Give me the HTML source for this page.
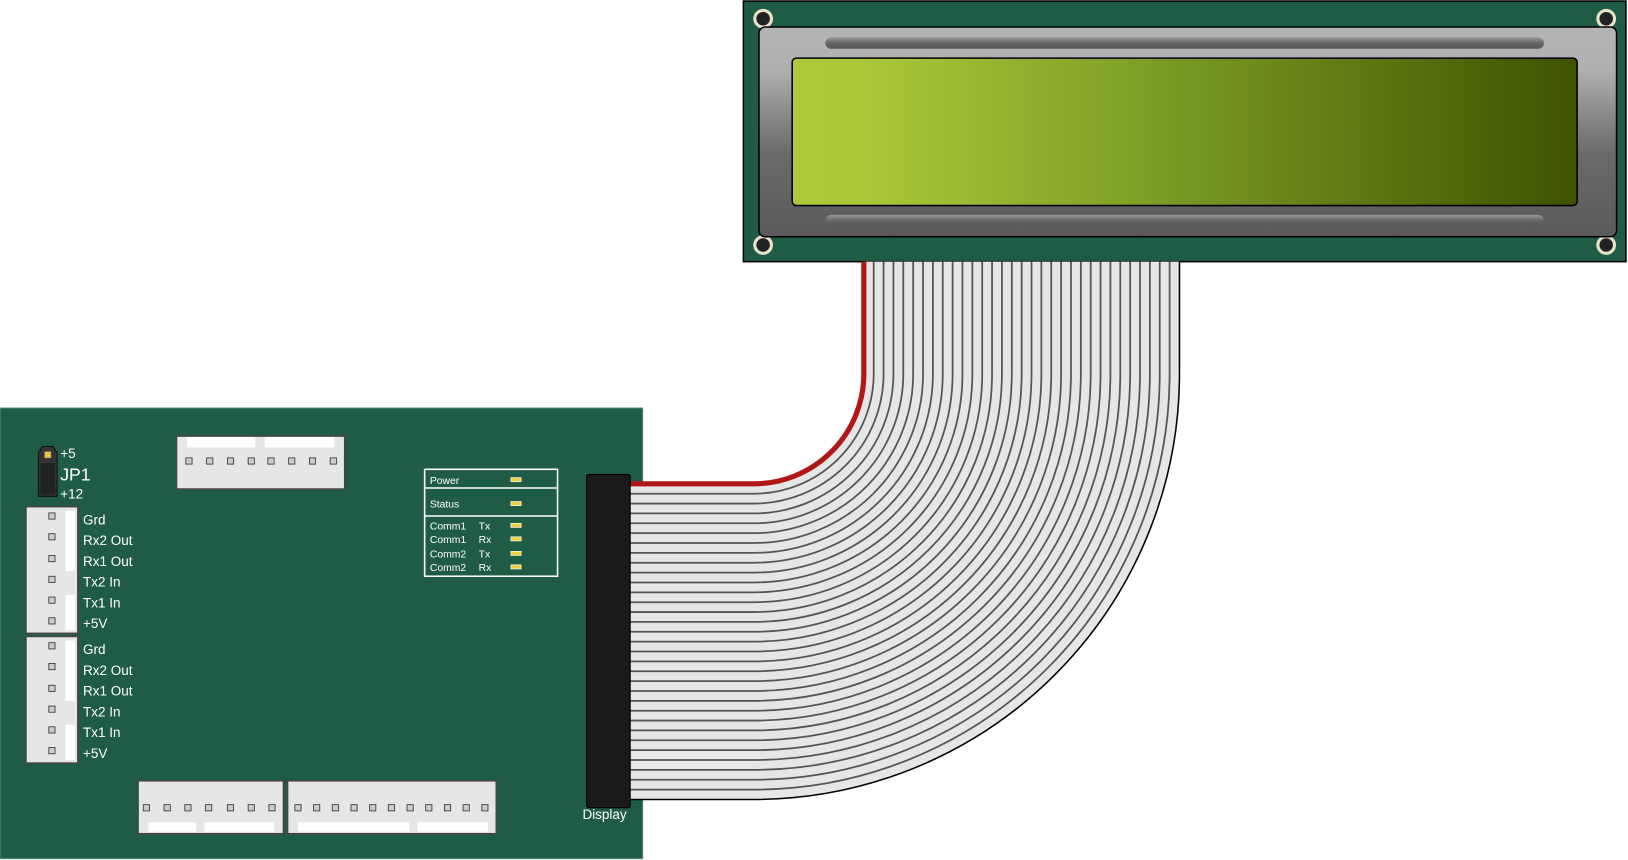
<!DOCTYPE html>
<html><head><meta charset="utf-8"><style>html,body{margin:0;padding:0;background:#fff}svg{display:block}</style></head>
<body>
<svg width="1628" height="860" viewBox="0 0 1568 828.3" preserveAspectRatio="none" xmlns="http://www.w3.org/2000/svg" font-family="Liberation Sans, sans-serif">
<defs>
<linearGradient id="bez" x1="0" y1="0" x2="0" y2="1"><stop offset="0" stop-color="#b4b4b4"/><stop offset="0.2" stop-color="#b0b0b0"/><stop offset="0.6" stop-color="#6a6a6a"/><stop offset="1" stop-color="#5a5a5a"/></linearGradient>
<linearGradient id="scr" x1="0" y1="0" x2="1" y2="0"><stop offset="0" stop-color="#aeca3a"/><stop offset="0.1" stop-color="#aac738"/><stop offset="0.45" stop-color="#7e9e26"/><stop offset="1" stop-color="#3e5200"/></linearGradient>
<linearGradient id="slot" x1="0" y1="0" x2="0" y2="1"><stop offset="0" stop-color="#999"/><stop offset="0.5" stop-color="#666"/><stop offset="1" stop-color="#555"/></linearGradient>
</defs>
<!-- LCD -->
<rect x="716" y="1" width="850" height="251" fill="#1f5c45" stroke="#000" stroke-width="1.5"/>
<g fill="#222" stroke="#e8e2c8" stroke-width="3">
<circle cx="735" cy="18" r="8"/><circle cx="1547" cy="18" r="8"/><circle cx="735" cy="236" r="8"/><circle cx="1547" cy="236" r="8"/></g>
<rect x="731" y="26" width="826" height="202" rx="6" fill="url(#bez)" stroke="#000" stroke-width="1.5"/>
<rect x="795" y="36" width="692" height="11" rx="5.5" fill="url(#slot)"/>
<rect x="795" y="207" width="692" height="11" rx="5.5" fill="url(#slot)"/>
<rect x="763" y="56" width="756" height="142" rx="4" fill="url(#scr)" stroke="#000" stroke-width="1.5"/>
<!-- PCB -->
<rect x="0" y="393" width="619" height="434" fill="#1f5c45" stroke="#5a8a78" stroke-width="1"/>
<!-- ribbon -->
<path d="M607 618 H726 A258 258 0 0 0 984 360 V252" fill="none" stroke="#e6e6e6" stroke-width="304"/>
<g fill="none" stroke="#555" stroke-width="1.7">
<path d="M607 475.5 H726 A115.5 115.5 0 0 0 841.5 360 V252"/>
<path d="M607 485 H726 A125 125 0 0 0 851 360 V252"/>
<path d="M607 494.5 H726 A134.5 134.5 0 0 0 860.5 360 V252"/>
<path d="M607 504 H726 A144 144 0 0 0 870 360 V252"/>
<path d="M607 513.5 H726 A153.5 153.5 0 0 0 879.5 360 V252"/>
<path d="M607 523 H726 A163 163 0 0 0 889 360 V252"/>
<path d="M607 532.5 H726 A172.5 172.5 0 0 0 898.5 360 V252"/>
<path d="M607 542 H726 A182 182 0 0 0 908 360 V252"/>
<path d="M607 551.5 H726 A191.5 191.5 0 0 0 917.5 360 V252"/>
<path d="M607 561 H726 A201 201 0 0 0 927 360 V252"/>
<path d="M607 570.5 H726 A210.5 210.5 0 0 0 936.5 360 V252"/>
<path d="M607 580 H726 A220 220 0 0 0 946 360 V252"/>
<path d="M607 589.5 H726 A229.5 229.5 0 0 0 955.5 360 V252"/>
<path d="M607 599 H726 A239 239 0 0 0 965 360 V252"/>
<path d="M607 608.5 H726 A248.5 248.5 0 0 0 974.5 360 V252"/>
<path d="M607 618 H726 A258 258 0 0 0 984 360 V252"/>
<path d="M607 627.5 H726 A267.5 267.5 0 0 0 993.5 360 V252"/>
<path d="M607 637 H726 A277 277 0 0 0 1003 360 V252"/>
<path d="M607 646.5 H726 A286.5 286.5 0 0 0 1012.5 360 V252"/>
<path d="M607 656 H726 A296 296 0 0 0 1022 360 V252"/>
<path d="M607 665.5 H726 A305.5 305.5 0 0 0 1031.5 360 V252"/>
<path d="M607 675 H726 A315 315 0 0 0 1041 360 V252"/>
<path d="M607 684.5 H726 A324.5 324.5 0 0 0 1050.5 360 V252"/>
<path d="M607 694 H726 A334 334 0 0 0 1060 360 V252"/>
<path d="M607 703.5 H726 A343.5 343.5 0 0 0 1069.5 360 V252"/>
<path d="M607 713 H726 A353 353 0 0 0 1079 360 V252"/>
<path d="M607 722.5 H726 A362.5 362.5 0 0 0 1088.5 360 V252"/>
<path d="M607 732 H726 A372 372 0 0 0 1098 360 V252"/>
<path d="M607 741.5 H726 A381.5 381.5 0 0 0 1107.5 360 V252"/>
<path d="M607 751 H726 A391 391 0 0 0 1117 360 V252"/>
<path d="M607 760.5 H726 A400.5 400.5 0 0 0 1126.5 360 V252"/>
</g>
<path d="M607 770 H726 A410 410 0 0 0 1136 360 V252" fill="none" stroke="#000" stroke-width="1.5"/>
<path d="M607 466 H726 A106 106 0 0 0 832 360 V252" fill="none" stroke="#b01818" stroke-width="5"/>
<!-- display connector -->
<rect x="565" y="457" width="42" height="321" rx="2" fill="#1a1a1a" stroke="#000"/>
<text x="561" y="789" fill="#fff" font-size="13">Display</text>
<!-- top connector -->
<rect x="170" y="420" width="162" height="51" fill="#e6e6e6" stroke="#444" stroke-width="1.5"/>
<rect x="180" y="421" width="66" height="10" fill="#fff"/><rect x="255" y="421" width="67" height="10" fill="#fff"/>
<g fill="#ccc" stroke="#333" stroke-width="0.8">
<rect x="179" y="441" width="6" height="6"/><rect x="199" y="441" width="6" height="6"/><rect x="219" y="441" width="6" height="6"/><rect x="239" y="441" width="6" height="6"/><rect x="258" y="441" width="6" height="6"/><rect x="278" y="441" width="6" height="6"/><rect x="298" y="441" width="6" height="6"/><rect x="318" y="441" width="6" height="6"/></g>
<!-- JP1 -->
<path d="M41 430 H51 L55 436 V478 H37 V436 Z" fill="#333" stroke="#111"/>
<rect x="39" y="446" width="14" height="30" fill="#222"/>
<rect x="43" y="435" width="6" height="6" fill="#e8c830" stroke="#999" stroke-width="0.5"/>
<g fill="#fff"><text x="58" y="441" font-size="13">+5</text><text x="58" y="463" font-size="17">JP1</text><text x="58" y="480" font-size="13">+12</text></g>
<!-- left connectors -->
<g>
<rect x="25" y="488" width="50" height="122" fill="#e6e6e6" stroke="#444" stroke-width="1.5"/>
<rect x="63" y="492" width="9" height="58" fill="#fff"/><rect x="63" y="573" width="9" height="34" fill="#fff"/>
<rect x="25" y="613" width="50" height="122" fill="#e6e6e6" stroke="#444" stroke-width="1.5"/>
<rect x="63" y="617" width="9" height="58" fill="#fff"/><rect x="63" y="698" width="9" height="34" fill="#fff"/>
</g>
<g fill="#ccc" stroke="#333" stroke-width="0.8">
<rect x="47" y="494" width="6" height="6"/><rect x="47" y="514" width="6" height="6"/><rect x="47" y="535" width="6" height="6"/><rect x="47" y="555" width="6" height="6"/><rect x="47" y="575" width="6" height="6"/><rect x="47" y="595" width="6" height="6"/>
<rect x="47" y="619" width="6" height="6"/><rect x="47" y="639" width="6" height="6"/><rect x="47" y="660" width="6" height="6"/><rect x="47" y="680" width="6" height="6"/><rect x="47" y="700" width="6" height="6"/><rect x="47" y="720" width="6" height="6"/>
</g>
<g fill="#fff" font-size="13">
<text x="80" y="505">Grd</text><text x="80" y="525">Rx2 Out</text><text x="80" y="545">Rx1 Out</text><text x="80" y="565">Tx2 In</text><text x="80" y="585">Tx1 In</text><text x="80" y="605">+5V</text>
<text x="80" y="630">Grd</text><text x="80" y="650">Rx2 Out</text><text x="80" y="670">Rx1 Out</text><text x="80" y="690">Tx2 In</text><text x="80" y="710">Tx1 In</text><text x="80" y="730">+5V</text>
</g>
<!-- LED box -->
<rect x="409" y="452" width="128" height="103" fill="none" stroke="#fff" stroke-width="1.5"/>
<line x1="409" y1="470" x2="537" y2="470" stroke="#fff" stroke-width="1.5"/>
<line x1="409" y1="497" x2="537" y2="497" stroke="#fff" stroke-width="1.5"/>
<g fill="#fff" font-size="10">
<text x="414" y="466">Power</text><text x="414" y="489">Status</text>
<text x="414" y="510">Comm1</text><text x="461" y="510">Tx</text>
<text x="414" y="523">Comm1</text><text x="461" y="523">Rx</text>
<text x="414" y="537">Comm2</text><text x="461" y="537">Tx</text>
<text x="414" y="550">Comm2</text><text x="461" y="550">Rx</text></g>
<g fill="#f0d040" stroke="#fff" stroke-width="0.6">
<rect x="492" y="460" width="10" height="4"/><rect x="492" y="483" width="10" height="4"/><rect x="492" y="504" width="10" height="4"/><rect x="492" y="517" width="10" height="4"/><rect x="492" y="531" width="10" height="4"/><rect x="492" y="544" width="10" height="4"/></g>
<!-- bottom connectors -->
<rect x="133" y="752" width="140" height="51" fill="#e6e6e6" stroke="#444" stroke-width="1.5"/>
<rect x="143" y="792" width="46" height="9" fill="#fff"/><rect x="197" y="792" width="67" height="9" fill="#fff"/>
<rect x="277" y="752" width="201" height="51" fill="#e6e6e6" stroke="#444" stroke-width="1.5"/>
<rect x="287" y="792" width="107" height="9" fill="#fff"/><rect x="402" y="792" width="68" height="9" fill="#fff"/>
<g fill="#ccc" stroke="#333" stroke-width="0.8">
<rect x="138" y="775" width="6" height="6"/><rect x="158" y="775" width="6" height="6"/><rect x="178" y="775" width="6" height="6"/><rect x="198" y="775" width="6" height="6"/><rect x="219" y="775" width="6" height="6"/><rect x="239" y="775" width="6" height="6"/><rect x="259" y="775" width="6" height="6"/>
<rect x="284" y="775" width="6" height="6"/><rect x="302" y="775" width="6" height="6"/><rect x="320" y="775" width="6" height="6"/><rect x="338" y="775" width="6" height="6"/><rect x="356" y="775" width="6" height="6"/><rect x="374" y="775" width="6" height="6"/><rect x="392" y="775" width="6" height="6"/><rect x="410" y="775" width="6" height="6"/><rect x="428" y="775" width="6" height="6"/><rect x="446" y="775" width="6" height="6"/><rect x="464" y="775" width="6" height="6"/>
</g>
</svg>
</body></html>
